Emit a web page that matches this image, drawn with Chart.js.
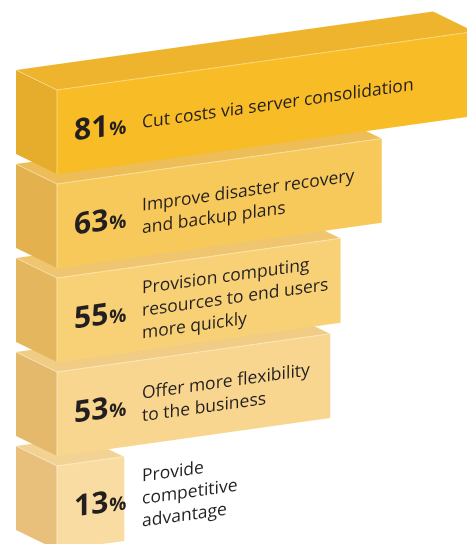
<!DOCTYPE html>
<html>
<head>
<meta charset="utf-8">
<script src="https://cdn.jsdelivr.net/npm/chart.js@4.4.0/dist/chart.umd.min.js"></script>
<style>
  html, body { margin: 0; padding: 0; background: #fff; overflow: hidden; }
  #wrap { width: 467px; height: 544px; }
</style>
</head>
<body>
<div id="wrap"><canvas id="chart" width="467" height="544"></canvas></div>
<script>
// Chart data
const categories = [
  ['Cut costs via server consolidation'],
  ['Improve disaster recovery', 'and backup plans'],
  ['Provision computing', 'resources to end users', 'more quickly'],
  ['Offer more flexibility', 'to the business'],
  ['Provide', 'competitive', 'advantage']
];
const values = [81, 63, 55, 53, 13];

// Face colours for each bar
const frontColors = ['#f7bc26', '#f7c95b', '#f8d177', '#f8d68f', '#f9dca1'];
const topColors   = ['#efb42e', '#edbe57', '#efc66f', '#f0cc85', '#f3d394'];
const sideColors  = ['#e6ac2b', '#e4b14f', '#e4b65e', '#e5b96b', '#e8c07c'];

const SLOPE = 0.14;        // bars climb to the right
const DEPTH = [-41, -20];  // back edge offset on screen
const PX_PER_PCT = 5.15;
const LEFT = 57;
const TEXT = '#231f20';

function barBox(el) {
  const b = el.getProps(['x', 'y', 'base', 'height'], true);
  return { x: b.x, base: b.base, y: b.y, top: b.y - b.height / 2, bottom: b.y + b.height / 2 };
}

// draws the 3d sides under the bars, then the text on top
const prismPlugin = {
  id: 'prism',
  beforeDatasetsDraw(chart) {
    const ctx = chart.ctx;
    const meta = chart.getDatasetMeta(0);
    const x0 = chart.chartArea.left;
    ctx.save();
    // shear everything drawn from here until afterDatasetsDraw
    ctx.transform(1, -SLOPE, 0, 1, 0, SLOPE * x0);
    const dx = DEPTH[0], dy = DEPTH[1] + SLOPE * DEPTH[0];

    for (let i = meta.data.length - 1; i >= 0; i--) {
      const b = barBox(meta.data[i]);
      ctx.fillStyle = topColors[i];
      ctx.beginPath();
      ctx.moveTo(b.base, b.top);
      ctx.lineTo(b.x, b.top);
      ctx.lineTo(b.x + dx, b.top + dy);
      ctx.lineTo(b.base + dx, b.top + dy);
      ctx.closePath();
      ctx.fill();

      ctx.fillStyle = sideColors[i];
      ctx.beginPath();
      ctx.moveTo(b.base, b.top);
      ctx.lineTo(b.base, b.bottom);
      ctx.lineTo(b.base + dx, b.bottom + dy);
      ctx.lineTo(b.base + dx, b.top + dy);
      ctx.closePath();
      ctx.fill();

      ctx.strokeStyle = 'rgba(255,255,255,0.45)';
      ctx.lineWidth = 0.8;
      ctx.beginPath();
      ctx.moveTo(b.base + dx, b.top + dy);
      ctx.lineTo(b.base, b.top);
      ctx.stroke();
    }
  },
  afterDatasetsDraw(chart) {
    const ctx = chart.ctx;
    const meta = chart.getDatasetMeta(0);
    meta.data.forEach((el, i) => {
      const b = barBox(el);
      // light edges of the front face
      ctx.strokeStyle = 'rgba(255,255,255,0.45)';
      ctx.lineWidth = 0.8;
      ctx.beginPath();
      ctx.moveTo(b.base, b.bottom);
      ctx.lineTo(b.base, b.top);
      ctx.lineTo(b.x, b.top);
      ctx.stroke();

      ctx.fillStyle = TEXT;
      ctx.textAlign = 'left';
      ctx.textBaseline = 'alphabetic';
      const px = b.base + 17, py = b.y + 11;
      const num = String(values[i]);
      ctx.font = 'bold 30px "Open Sans"';
      ctx.fillText(num, px, py);
      const w = ctx.measureText(num).width;
      ctx.font = 'bold 19px "Open Sans"';
      ctx.fillText('%', px + w + 1, py);

      ctx.font = '17.5px "Open Sans"';
      const lines = categories[i];
      lines.forEach((line, j) => {
        ctx.fillText(line, b.base + 85, b.y + 8 + (j - (lines.length - 1) / 2) * 22.5);
      });
    });
    ctx.restore();
  }
};

new Chart(document.getElementById('chart'), {
  type: 'bar',
  data: {
    labels: categories,
    datasets: [{
      data: values,
      backgroundColor: frontColors,
      borderWidth: 0,
      barThickness: 84,
      clip: false
    }]
  },
  options: {
    indexAxis: 'y',
    responsive: false,
    animation: false,
    layout: { padding: { left: LEFT, top: 132, right: 0, bottom: 36 } },
    scales: {
      x: { display: false, min: 0, max: (467 - LEFT) / PX_PER_PCT },
      y: { display: false, offset: false }
    },
    plugins: {
      legend: { display: false },
      tooltip: { enabled: false }
    }
  },
  plugins: [prismPlugin]
});
</script>
</body>
</html>
